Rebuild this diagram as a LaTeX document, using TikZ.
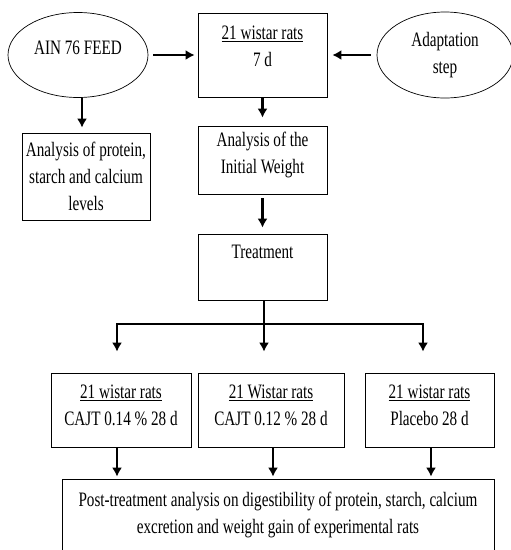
\documentclass[tikz,border=0pt]{standalone}
\usepackage{fontspec}
\setmainfont{Liberation Serif}[FakeStretch=0.74]
\usetikzlibrary{shapes,arrows,arrows.meta,positioning}
\tikzstyle{block} = [draw, fill=white, rectangle, line width=0.7pt, align=center, inner sep=0pt]
\tikzstyle{oval} = [draw, fill=white, ellipse, line width=0.7pt, align=center, inner sep=0pt]
\tikzstyle{flow} = [->, line width=2.6pt]

\begin{document}
\begin{tikzpicture}[x=1pt, y=-1pt, font=\fontsize{20.5}{27}\selectfont, >={Latex[length=9pt,width=10pt]}]
\useasboundingbox (0,0) rectangle (511,550);
		\node(feed)[oval, minimum width=140pt, minimum height=85pt, text depth=14pt] at (78,55){AIN 76 FEED};
		\node(rats)[block, minimum width=129pt, minimum height=84pt, text depth=17pt] at (262.5,55){\underline{21 wistar rats}\\7 d};
		\node(adapt)[oval, minimum width=136pt, minimum height=86pt] at (445,55){Adaptation\\step};
		\node(feedlab)[block, minimum width=128pt, minimum height=87pt] at (86,176.5){Analysis of protein,\\starch and calcium\\levels};
		\node(initw)[block, minimum width=129pt, minimum height=68pt, text depth=15pt] at (262.5,160){Analysis of the\\Initial Weight};
		\node(treat)[block, minimum width=129pt, minimum height=66pt, text depth=31pt] at (262.5,267){Treatment};
		\node(grpa)[block, minimum width=140pt, minimum height=74pt, text depth=9pt] at (121,410){\underline{21 wistar rats}\\CAJT 0.14 \% 28 d};
		\node(grpb)[block, minimum width=146pt, minimum height=74pt, text depth=9pt] at (271,410){\underline{21 Wistar rats}\\CAJT 0.12 \% 28 d};
		\node(grpc)[block, minimum width=129pt, minimum height=74pt, text depth=9pt] at (429.5,410){\underline{21 wistar rats}\\Placebo 28 d};
		\node(post)[block, minimum width=432pt, minimum height=72pt] at (278,515){Post-treatment analysis on digestibility of protein, starch, calcium\\excretion and weight gain of experimental rats};
		
		\draw[flow, shorten <=5pt, shorten >=3pt] (feed) -- (rats);
		\draw[flow, shorten <=6pt, shorten >=5pt] (adapt) -- (rats);
		\draw[flow, shorten >=5pt] ([xshift=4pt]feed.south) -- ([xshift=-4pt]feedlab.north);
		\draw[flow, shorten >=8pt] (rats) -- (initw);
		\draw[flow, shorten <=4pt, shorten >=6pt] (initw) -- (treat);
		
		\coordinate(forka) at (117,324);
		\coordinate(forkb) at (264,324);
		\coordinate(forkc) at (423,324);
		\draw[line width=2.6pt] (treat.south -| forkb) -- (forkb);
		\draw[flow, shorten >=21pt] (forkb) -| (grpa.north -| forka);
		\draw[flow, shorten >=21pt] (forkb) -| (grpc.north -| forkc);
		\draw[flow, shorten >=21pt] (forkb) -- (grpb.north -| forkb);
		
		\draw[flow, shorten >=2pt] (grpa.south -| forka) -- (post.north -| forka);
		\draw[flow, shorten >=2pt] ([xshift=2pt]grpb.south) -- ([xshift=2pt]grpb.south |- post.north);
		\draw[flow, shorten >=2pt] ([xshift=1.5pt]grpc.south) -- ([xshift=1.5pt]grpc.south |- post.north);
		\end{tikzpicture}
\end{document}
